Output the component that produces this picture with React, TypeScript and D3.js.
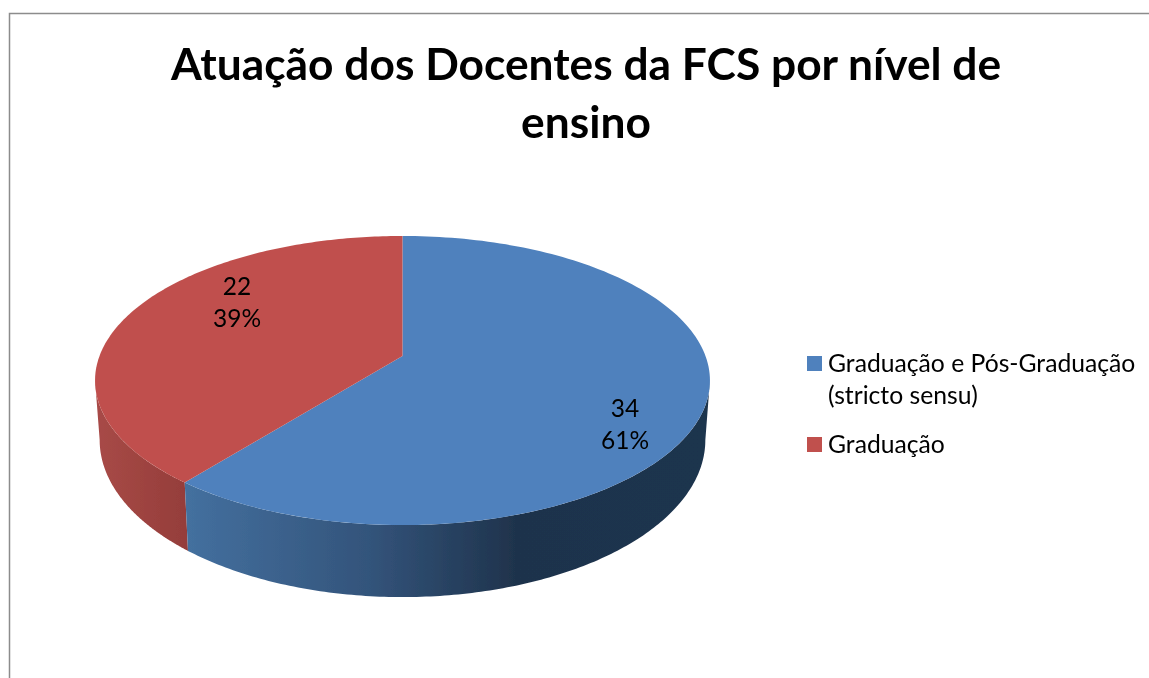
import React from "react";
import * as d3 from "d3";

const titleLines = ["Atuação dos Docentes da FCS por nível de", "ensino"];
const categories = ["Graduação e Pós-Graduação", "Graduação"];
const legendLines = [["Graduação e Pós-Graduação", "(stricto sensu)"], ["Graduação"]];
const values = [34, 22];
const percents = ["61%", "39%"];
const topColors = ["#4F81BD", "#C0504D"];
const FONT = "Lato, Carlito, Calibri, sans-serif";

// perspective projection of the pie disc
const apex = { x: 402.5, y: 356 };
const K = 0.1695, A = 140.4, B = 303;
const project = (ang: number, depth: number): [number, number] => {
  const ux = Math.sin(ang), uy = -Math.cos(ang);
  const w = 1 - K * uy;
  const px = (B * ux) / w, py = (A * uy) / w;
  if (!depth) return [apex.x + px, apex.y + py];
  // base plane: seen a little further away and shifted down
  return [apex.x + px * 0.985, apex.y + 57.4 + py * 1.0865];
};

const arcs = d3.pie<number>().sort(null)(values);
const line = d3.line().curve(d3.curveLinear);
const samples = (a0: number, a1: number) => d3.range(0, 161).map(i => a0 + (a1 - a0) * i / 160);

export default function App() {
  const TAU = Math.PI * 2;
  const blueEnd = arcs[0].endAngle;
  const sideStart = Math.acos(-K);
  const topPath = (a: any) => {
    const pts = samples(a.startAngle, a.endAngle).map(t => project(t, 0));
    return line([[apex.x, apex.y], ...pts])! + "Z";
  };
  const sidePath = (a0: number, a1: number) => {
    const s = samples(a0, a1);
    return line([...s.map(t => project(t, 0)), ...s.slice().reverse().map(t => project(t, 1))])! + "Z";
  };
  return (
    <svg width={1149} height={678} style={{ position: "absolute", left: 0, top: 0, background: "#fff" }} fontFamily={FONT}>
      <defs>
        <linearGradient id="blueSide" gradientUnits="userSpaceOnUse" x1={185} x2={710} y1={0} y2={0}>
          <stop offset="0" stopColor="#44709F" />
          <stop offset="0.35" stopColor="#33547B" />
          <stop offset="0.63" stopColor="#1F334C" />
          <stop offset="1" stopColor="#1F344E" />
        </linearGradient>
        <linearGradient id="redSide" gradientUnits="userSpaceOnUse" x1={95} x2={190} y1={0} y2={0}>
          <stop offset="0" stopColor="#A84A47" />
          <stop offset="1" stopColor="#943D3A" />
        </linearGradient>
        <filter id="soft" x="-5%" y="-5%" width="110%" height="110%">
          <feGaussianBlur stdDeviation="0.45" />
        </filter>
      </defs>
      <path d="M9.5,678V13.5H1149" fill="none" stroke="#8C8C8C" strokeWidth={1.5} />
      <g filter="url(#soft)">
        <path d={sidePath(blueEnd, TAU - sideStart)} fill="url(#redSide)" />
        <path d={sidePath(sideStart, blueEnd)} fill="url(#blueSide)" />
        {arcs.map((a, i) => <path key={categories[i]} d={topPath(a)} fill={topColors[i]} />)}
      </g>
      <g textAnchor="middle" fontWeight={700} fontSize={44.3} fill="#000" filter="url(#soft)">
        {titleLines.map((t, i) => <text key={t} x={586} y={80 + i * 58}>{t}</text>)}
      </g>
      <g textAnchor="middle" fontSize={24.5} fill="#000" filter="url(#soft)">
        <text x={625} y={417}>{values[0]}</text>
        <text x={625} y={449}>{percents[0]}</text>
        <text x={237} y={295}>{values[1]}</text>
        <text x={237} y={327}>{percents[1]}</text>
      </g>
      <rect x={807} y={356} width={15} height={15} fill={topColors[0]} />
      <rect x={807} y={437} width={15} height={15} fill={topColors[1]} />
      <g fontSize={24.7} fill="#000" filter="url(#soft)">
        <text x={828} y={372}>{legendLines[0][0]}</text>
        <text x={828} y={404}>{legendLines[0][1]}</text>
        <text x={828} y={453}>{legendLines[1][0]}</text>
      </g>
    </svg>
  );
}
